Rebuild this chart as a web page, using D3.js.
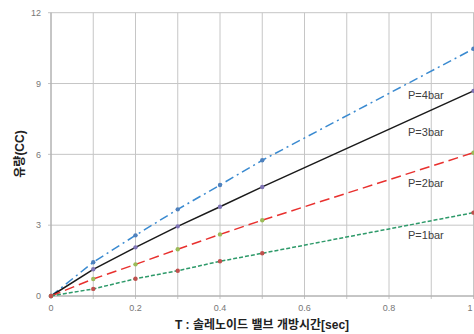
<!DOCTYPE html>
<html><head><meta charset="utf-8">
<script src="https://cdn.jsdelivr.net/npm/d3@7"></script>
<style>body{margin:0;background:#fff}svg{display:block}</style>
</head><body><svg id="c" width="474" height="334"></svg>
<script>
const times = [0, 0.1, 0.2, 0.3, 0.4, 0.5, 1.0];
const p4 = [0, 1.43, 2.57, 3.67, 4.70, 5.75, 10.47];
const p3 = [0, 1.13, 2.06, 2.95, 3.78, 4.62, 8.69];
const p2 = [0, 0.72, 1.34, 1.98, 2.61, 3.21, 6.07];
const p1 = [0, 0.30, 0.73, 1.07, 1.47, 1.81, 3.53];
const seriesNames = ["P=4bar", "P=3bar", "P=2bar", "P=1bar"];
const xTicks = [0, 0.2, 0.4, 0.6, 0.8, 1];
const xGrid = [0, 0.1, 0.2, 0.3, 0.4, 0.5, 0.6, 0.7, 0.8, 0.9, 1];
const yTicks = [0, 3, 6, 9, 12];
const xTitle = "T : 솔레노이드 밸브 개방시간[sec]";
const yTitle = "유량(CC)";

const svg = d3.select("#c");
const x = d3.scaleLinear().domain([0, 1]).range([51, 473.5]);
const y = d3.scaleLinear().domain([0, 12]).range([296, 12.7]);
const font = "'Liberation Sans', Arial, 'Noto Sans CJK KR', sans-serif";

// grid
svg.append("g").selectAll("line").data(xGrid).join("line")
  .attr("x1", d => x(d)).attr("x2", d => x(d)).attr("y1", y(12)).attr("y2", y(0) + 3)
  .attr("stroke", "#c6c6c6").attr("stroke-width", 1);
svg.append("g").selectAll("line").data(yTicks).join("line")
  .attr("x1", x(0) - 3).attr("x2", 474).attr("y1", d => y(d)).attr("y2", d => y(d))
  .attr("stroke", "#c6c6c6").attr("stroke-width", 1);
svg.append("line").attr("x1", x(0)).attr("x2", x(0)).attr("y1", y(12)).attr("y2", y(0))
  .attr("stroke", "#a8a8a8");
svg.append("line").attr("x1", x(0)).attr("x2", 474).attr("y1", y(0)).attr("y2", y(0))
  .attr("stroke", "#a8a8a8");

// tick labels
svg.append("g").selectAll("text").data(yTicks).join("text")
  .attr("x", 41).attr("y", d => y(d)).attr("dy", "0.35em").attr("text-anchor", "end")
  .attr("font-family", font).attr("font-size", 9).attr("fill", "#777").text(d => d);
svg.append("g").selectAll("text").data(xTicks).join("text")
  .attr("x", d => Math.min(x(d), 470)).attr("y", 308).attr("dy", "0.35em").attr("text-anchor", "middle")
  .attr("font-family", font).attr("font-size", 9).attr("fill", "#777").text(d => d);

// titles
svg.append("text").attr("x", 262).attr("y", 325).attr("dy", "0.35em").attr("text-anchor", "middle")
  .attr("font-family", font).attr("font-size", 12).attr("font-weight", "bold").attr("fill", "#222")
  .text(xTitle);
svg.append("text").attr("transform", "translate(20,154) rotate(-90)").attr("dy", "0.35em")
  .attr("text-anchor", "middle").attr("font-family", font).attr("font-size", 12)
  .attr("font-weight", "bold").attr("fill", "#222").text(yTitle);

const series = [
  {vals: p4, line: "#3a8ad0", dash: "9,4,2,4", marker: "#4f81bd"},
  {vals: p3, line: "#1a1a1a", dash: null, marker: "#7f74b5"},
  {vals: p2, line: "#e8302e", dash: "10,5", marker: "#9bbb59"},
  {vals: p1, line: "#2e9a6a", dash: "4,2", marker: "#c0504d"}
];
const line = d3.line().x(d => x(d[0])).y(d => y(d[1]));
series.forEach(s => {
  const pts = times.map((t, i) => [t, s.vals[i]]);
  svg.append("path").datum(pts).attr("d", line).attr("fill", "none")
    .attr("stroke", s.line).attr("stroke-width", 1.5)
    .attr("stroke-dasharray", s.dash);
  svg.append("g").selectAll("circle").data(pts).join("circle")
    .attr("cx", d => x(d[0])).attr("cy", d => y(d[1])).attr("r", 2.2)
    .attr("fill", s.marker);
});

// series labels
const labelY = [95, 132, 183, 235];
svg.append("g").selectAll("text").data(seriesNames).join("text")
  .attr("x", 408).attr("y", (d, i) => labelY[i]).attr("dy", "0.35em")
  .attr("font-family", font).attr("font-size", 11).attr("fill", "#404040").text(d => d);
</script></body></html>
